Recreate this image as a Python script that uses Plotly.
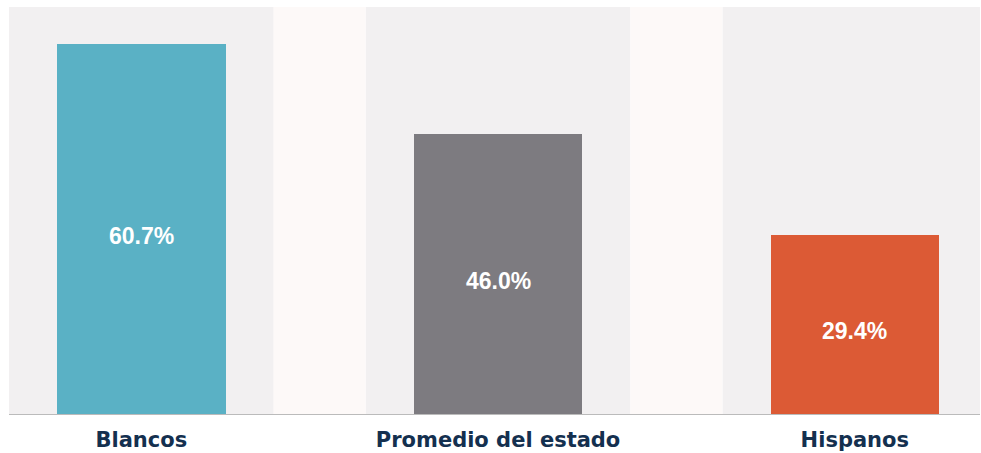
import plotly.graph_objects as go

categories = ["Blancos", "Promedio del estado", "Hispanos"]
values = [60.7, 46.0, 29.4]
labels = ["60.7%", "46.0%", "29.4%"]
colors = ["#5ab1c5", "#7d7b80", "#dc5a35"]

x = list(range(len(categories)))
FONT = "Liberation Sans, Arial, sans-serif"
CAT_FONT = "DejaVu Sans, sans-serif"

fig = go.Figure()
fig.add_trace(go.Bar(
    x=x, y=values, marker=dict(color=colors, line=dict(width=0)),
    width=0.472, hoverinfo="skip", showlegend=False,
))

shapes = []
half = 0.371
for i in x:
    shapes.append(dict(type="rect", xref="x", yref="paper", x0=i - half, x1=i + half,
                       y0=0, y1=1, fillcolor="#f2f0f1", line=dict(width=0), layer="below"))
for i in range(len(x) - 1):
    shapes.append(dict(type="rect", xref="x", yref="paper", x0=i + half, x1=i + 1 - half,
                       y0=0, y1=1, fillcolor="#fdf9f8", line=dict(width=0), layer="below"))
shapes.append(dict(type="line", xref="paper", yref="y", x0=0, x1=1, y0=0, y1=0,
                   line=dict(color="#bbbbbb", width=2)))

annotations = []
for i, v, t in zip(x, values, labels):
    annotations.append(dict(x=i, y=v / 2, xref="x", yref="y", text="<b>%s</b>" % t, showarrow=False,
                            yshift=-6,
                            font=dict(family=FONT, size=23, color="white")))

fig.update_layout(
    width=981, height=453,
    margin=dict(l=9, r=1, t=7, b=38),
    paper_bgcolor="white", plot_bgcolor="white",
    shapes=shapes, annotations=annotations,
    bargap=0,
    xaxis=dict(range=[-0.371, 2.351], tickvals=x, ticktext=["<b>%s</b>" % c for c in categories],
               showgrid=False, zeroline=False, showline=False, ticks="",
               ticklabelstandoff=10,
               tickfont=dict(family=CAT_FONT, size=21, color="#14304f"),
               fixedrange=True),
    yaxis=dict(range=[0, 66.8], visible=False, showgrid=False, zeroline=False, fixedrange=True),
    font=dict(family=FONT),
)

fig.write_html("out.html", config={"displayModeBar": False},
               post_script="document.body.style.margin='0';document.body.style.overflow='hidden';")
